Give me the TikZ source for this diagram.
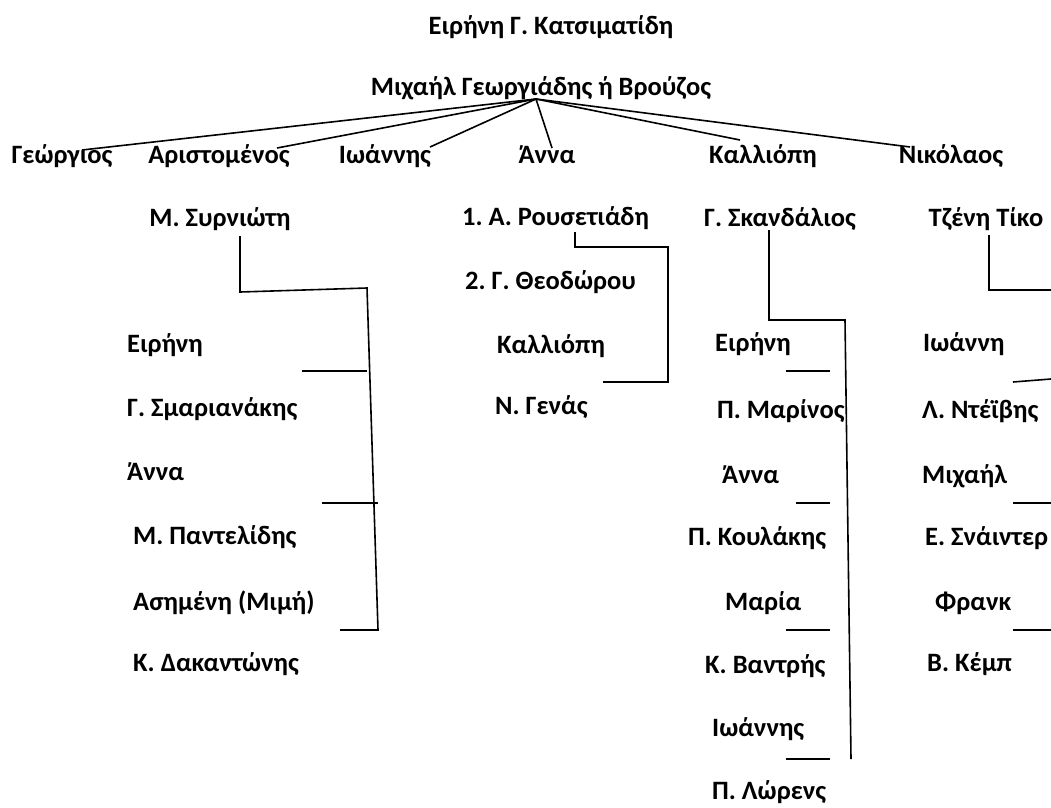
\documentclass[tikz,border=0pt]{standalone}
\usepackage{fontspec}
\setmainfont{Carlito}
\usepackage{tikz}
\frenchspacing

\begin{document}
\begin{tikzpicture}[x=1pt,y=-1pt]
\useasboundingbox (0,0) rectangle (1051,807);
\begin{scope}[every node/.style={font=\bfseries\fontsize{26.5}{30}\selectfont,
              inner sep=0pt, text height=1.45ex, text depth=.4ex, yshift=-4pt}]
  \node (title) at (551,28) {Ειρήνη Γ. Κατσιματίδη};
  \node (root) at (541,89) {Μιχαήλ Γεωργιάδης ή Βρούζος};
  % children
  \node (geo) at (62,157) {Γεώργιος};
  \node (ari) at (219,157) {Αριστομένος};
  \node (ioa) at (385,157) {Ιωάννης};
  \node (ann) at (547,157) {Άννα};
  \node (kal) at (763,157) {Καλλιόπη};
  \node (nik) at (951,157) {Νικόλαος};
  % spouses
  \node (syr) at (220,220) {Μ. Συρνιώτη};
  \node[anchor=west] (rou) at (462,219) {1. Α. Ρουσετιάδη};
  \node[anchor=west] (the) at (465,283) {2. Γ. Θεοδώρου};
  \node (ska) at (780,220) {Γ. Σκανδάλιος};
  \node (tik) at (986,220) {Τζένη Τίκο};
  % Aristomenos line
  \node[anchor=west] (a1) at (127,346) {Ειρήνη};
  \node[anchor=west] (a1s) at (127,410) {Γ. Σμαριανάκης};
  \node[anchor=west] (a2) at (127,474) {Άννα};
  \node[anchor=west] (a2s) at (133,538) {Μ. Παντελίδης};
  \node[anchor=west] (a3) at (133,604) {Ασημένη (Μιμή)};
  \node[anchor=west] (a3s) at (133,665) {Κ. Δακαντώνης};
  % Anna line
  \node[anchor=west] (n1) at (497,347) {Καλλιόπη};
  \node[anchor=west] (n1s) at (495,408) {Ν. Γενάς};
  % Kalliopi line
  \node[anchor=west] (k1) at (715,345) {Ειρήνη};
  \node[anchor=west] (k1s) at (717,412) {Π. Μαρίνος};
  \node[anchor=west] (k2) at (722,477) {Άννα};
  \node[anchor=west] (k2s) at (688,539) {Π. Κουλάκης};
  \node[anchor=west] (k3) at (725,604) {Μαρία};
  \node[anchor=west] (k3s) at (705,667) {Κ. Βαντρής};
  \node[anchor=west] (k4) at (712,730) {Ιωάννης};
  \node[anchor=west] (k4s) at (712,793) {Π. Λώρενς};
  % Nikolaos line
  \node[anchor=west] (t1) at (923,345) {Ιωάννη};
  \node[anchor=west] (t1s) at (922,412) {Λ. Ντέϊβης};
  \node[anchor=west] (t2) at (922,477) {Μιχαήλ};
  \node[anchor=west] (t2s) at (925,539) {Ε. Σνάιντερ};
  \node[anchor=west] (t3) at (935,604) {Φρανκ};
  \node[anchor=west] (t3s) at (927,665) {Β. Κέμπ};
\end{scope}

% joints
\coordinate (r) at (536,99);
\coordinate (geoT) at (82,150);
\coordinate (ariT) at (277,148);
\coordinate (ioaT) at (430,147);
\coordinate (annT) at (552,148);
\coordinate (kalT) at (740,140);
\coordinate (nikT) at (910,147);

\begin{scope}[every edge/.style={draw=black, line width=1.6pt}]
  \path (r) edge (geoT) edge (ariT) edge (ioaT)
            edge (annT) edge (kalT) edge (nikT);
\end{scope}

\begin{scope}[line width=1.6pt]
  % Aristomenos
  \draw (240,236) -- (240,292) -- (367,288) -- (378,630) -- (340,630);
  \draw (302,371) -- (367,371);
  \draw (322,503) -- (378,503);
  % Anna
  \draw (575,232) -- (575,247) -- (668,247) -- (668,382) -- (603,382);
  % Kalliopi
  \draw (769,230) -- (769,320) -- (845,320) -- (851,759);
  \draw (786,371) -- (830,371);
  \draw (796,503) -- (830,503);
  \draw (786,630) -- (830,630);
  \draw (786,759) -- (830,759);
  % Nikolaos
  \draw (989,235) -- (989,290) -- (1051,290);
  \draw (1013,382) -- (1051,379);
  \draw (1013,503) -- (1051,503);
  \draw (1013,630) -- (1051,630);
\end{scope}
\end{tikzpicture}
\end{document}
